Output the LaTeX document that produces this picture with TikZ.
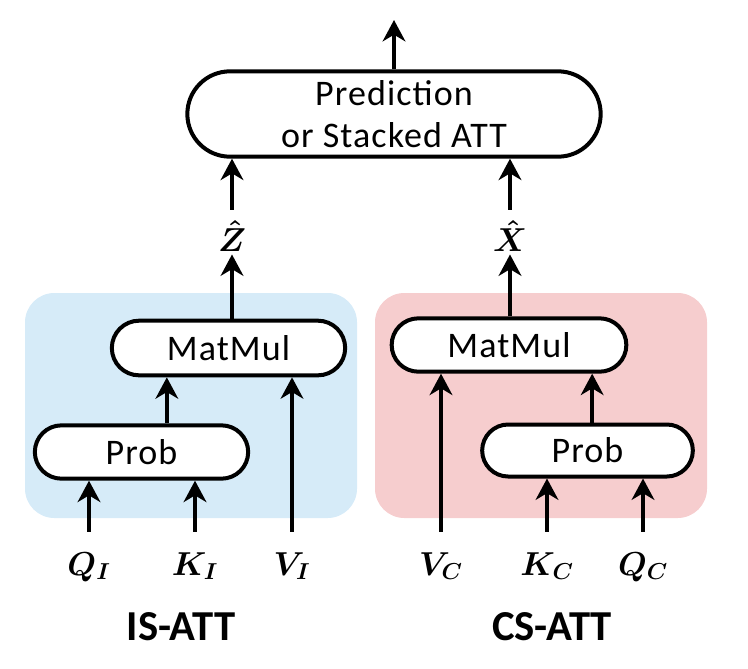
\documentclass[tikz,border=0pt]{standalone}
\usepackage{fontspec}
\setmainfont{Carlito}
\newfontfamily\boxfont{Carlito}[LetterSpace=3]
\usetikzlibrary{arrows.meta,calc}
\definecolor{bluebg}{RGB}{214,235,248}
\definecolor{redbg}{RGB}{246,205,206}
\begin{document}
\begin{tikzpicture}[x=0.75pt,y=-0.75pt,
  box/.style={draw,line width=3pt,fill=white,inner sep=2pt,font=\boxfont\fontsize{27}{32}\selectfont},
  arr/.style={line width=3pt,-{Stealth[length=16pt,width=17pt,inset=5pt]}},
  hatlab/.style={inner sep=2pt,font=\fontsize{27}{30}\selectfont\boldmath},
  inlab/.style={inner xsep=0pt,inner ysep=15pt,anchor=base,font=\fontsize{26}{30}\selectfont\boldmath},
  title/.style={font=\bfseries\fontsize{32}{38}\selectfont}]
\useasboundingbox (0,0) rectangle (748,668);
\fill[bluebg,rounded corners=22pt] (25,293) rectangle (357,518);
\fill[redbg,rounded corners=22pt] (375,293) rectangle (707,518);

\node[box,align=center,minimum width=310pt,minimum height=64pt,rounded corners=32pt] (pred) at (394,114) {Prediction\\or Stacked ATT};
\node[box,minimum width=175pt,minimum height=41pt,rounded corners=20.5pt] (mmL) at (228.5,348) {MatMul};
\node[box,minimum width=160pt,minimum height=40pt,rounded corners=20pt] (pL) at (141.5,452) {Prob};
\node[box,minimum width=176pt,minimum height=40pt,rounded corners=20pt] (mmR) at (509,345) {MatMul};
\node[box,minimum width=158pt,minimum height=39pt,rounded corners=19.5pt] (pR) at (587.5,450.5) {Prob};

\coordinate (out) at (394,20);
\draw[arr] (pred.north) -- (out);

\node[hatlab] (zh) at (232,236) {$\hat{Z}$};
\node[hatlab] (xh) at (510,236) {$\hat{X}$};
\draw[arr] (mmL.north -| zh) -- (zh.south);
\draw[arr,shorten <=6pt] (zh.north) -- (zh.north |- pred.south);
\draw[arr] (mmR.north -| xh) -- (xh.south);
\draw[arr,shorten <=6pt] (xh.north) -- (xh.north |- pred.south);

\node[inlab] (qI) at (89,575) {$Q_I$};
\node[inlab] (kI) at (195,575) {$K_I$};
\node[inlab] (vI) at (292,575) {$V_I$};
\node[inlab] (vC) at (441,575) {$V_C$};
\node[inlab] (kC) at (547,575) {$K_C$};
\node[inlab] (qC) at (643,575) {$Q_C$};

\draw[arr] (qI.north) -- (qI.north |- pL.south);
\draw[arr] (kI.north) -- (kI.north |- pL.south);
\draw[arr] (vI.north) -- (vI.north |- mmL.south);
\draw[arr] ([xshift=19pt]pL.north) -- ([xshift=19pt]pL.north |- mmL.south);

\draw[arr] (vC.north) -- (vC.north |- mmR.south);
\draw[arr] (kC.north) -- (kC.north |- pR.south);
\draw[arr] (qC.north) -- (qC.north |- pR.south);
\draw[arr] ([xshift=3.5pt]pR.north) -- ([xshift=3.5pt]pR.north |- mmR.south);

\node[title] (isatt) at (181,627) {IS-ATT};
\node[title] (csatt) at (552,627) {CS-ATT};
\end{tikzpicture}
\end{document}
